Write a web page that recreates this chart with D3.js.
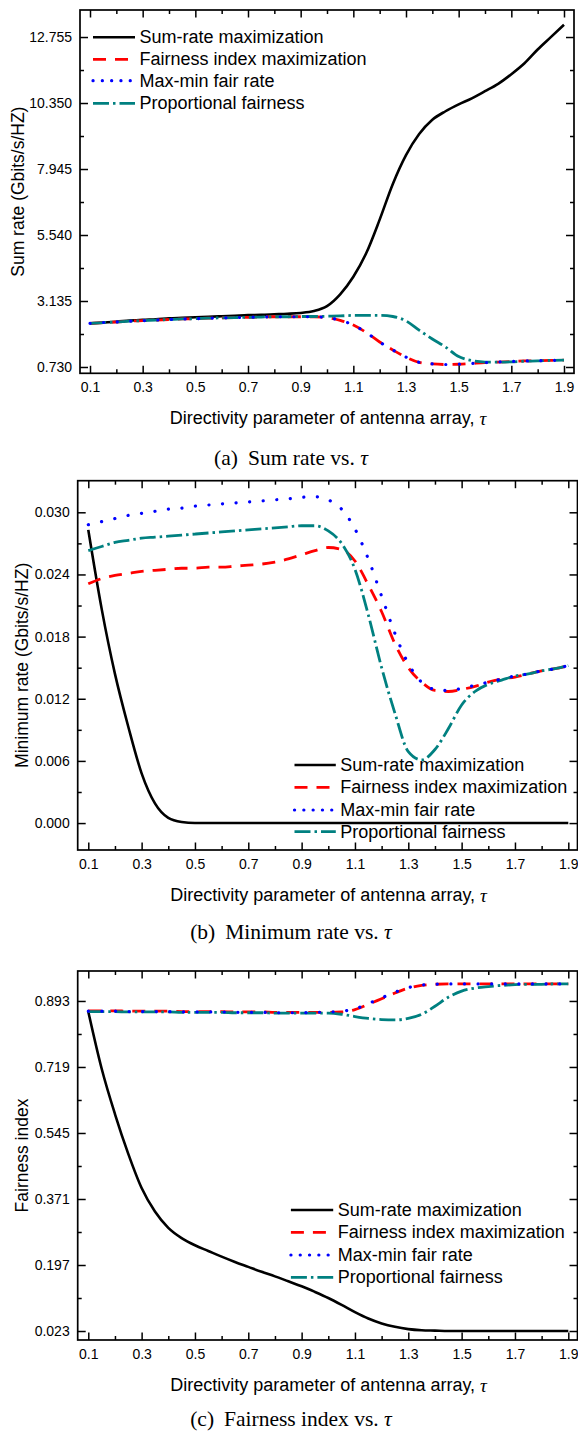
<!DOCTYPE html>
<html><head><meta charset="utf-8">
<script src="https://cdn.jsdelivr.net/npm/d3@7"></script>
<style>body{margin:0;background:#fff} svg{display:block}</style>
</head><body>
<svg id="c" width="578" height="1433"></svg>
<script>
// ---------------- DATA ----------------
const tau = [0.1,0.15,0.2,0.25,0.3,0.35,0.4,0.45,0.5,0.55,0.6,0.65,0.7,0.75,0.8,0.85,0.9,0.95,1.0,1.05,1.1,1.15,1.2,1.25,1.3,1.35,1.4,1.45,1.5,1.55,1.6,1.65,1.7,1.75,1.8,1.85,1.9];
const seriesNames = ["Sum-rate maximization","Fairness index maximization","Max-min fair rate","Proportional fairness"];
const xTickLabels = ["0.1","0.3","0.5","0.7","0.9","1.1","1.3","1.5","1.7","1.9"];
const xMinorTicks = [0.2,0.4,0.6,0.8,1.0,1.2,1.4,1.6,1.8];

// (a) Sum rate
const sumRateTickLabels = ["0.730","3.135","5.540","7.945","10.350","12.755"];
const sumRateSR = [2.32,2.35,2.38,2.42,2.45,2.47,2.50,2.52,2.54,2.56,2.58,2.60,2.62,2.63,2.65,2.67,2.70,2.77,2.95,3.38,4.02,4.90,6.10,7.40,8.45,9.22,9.74,10.05,10.30,10.52,10.78,11.05,11.40,11.80,12.30,12.75,13.20];
const sumRateFI = [2.32,2.35,2.37,2.40,2.42,2.44,2.46,2.48,2.49,2.51,2.52,2.53,2.54,2.55,2.56,2.56,2.56,2.56,2.53,2.43,2.26,1.98,1.64,1.35,1.09,0.90,0.84,0.82,0.83,0.86,0.89,0.91,0.93,0.95,0.96,0.97,0.98];
const sumRateMM = [2.32,2.35,2.37,2.40,2.42,2.44,2.46,2.48,2.49,2.51,2.52,2.53,2.54,2.55,2.56,2.56,2.56,2.56,2.53,2.43,2.26,1.98,1.64,1.35,1.09,0.90,0.84,0.82,0.83,0.86,0.89,0.91,0.93,0.95,0.96,0.97,0.98];
const sumRatePF = [2.32,2.35,2.37,2.40,2.42,2.44,2.46,2.48,2.49,2.51,2.52,2.53,2.54,2.55,2.56,2.56,2.57,2.57,2.58,2.59,2.61,2.61,2.61,2.57,2.41,2.07,1.75,1.46,1.11,0.96,0.91,0.91,0.92,0.94,0.95,0.97,0.98];

// (b) Minimum rate
const minRateTickLabels = ["0.000","0.006","0.012","0.018","0.024","0.030"];
const minRateSR = [0.0283,0.0207,0.0144,0.0093,0.0048,0.0019,0.0005,0.0001,0.0000,0.0000,0.0000,0.0000,0.0000,0.0000,0.0000,0.0000,0.0000,0.0000,0.0000,0.0000,0.0000,0.0000,0.0000,0.0000,0.0000,0.0000,0.0000,0.0000,0.0000,0.0000,0.0000,0.0000,0.0000,0.0000,0.0000,0.0000,0.0000];
const minRateFI = [0.0231,0.0236,0.0239,0.0241,0.0243,0.0244,0.0245,0.0246,0.0246,0.0247,0.0247,0.0248,0.0249,0.0250,0.0252,0.0255,0.0259,0.0263,0.0266,0.0264,0.0253,0.0230,0.0204,0.0173,0.0150,0.0136,0.0128,0.0127,0.0129,0.0132,0.0136,0.0139,0.0141,0.0144,0.0147,0.0149,0.0152];
const minRateMM = [0.0288,0.0291,0.0294,0.0297,0.0299,0.0301,0.0303,0.0304,0.0306,0.0307,0.0308,0.0309,0.0310,0.0311,0.0312,0.0313,0.03145,0.0315,0.0312,0.0303,0.0284,0.0255,0.0219,0.0183,0.0154,0.0136,0.0129,0.0128,0.0130,0.0133,0.0136,0.0139,0.0142,0.0144,0.0147,0.0149,0.0152];
const minRatePF = [0.0263,0.0267,0.0271,0.0273,0.0275,0.0276,0.0277,0.0278,0.0279,0.0280,0.0281,0.0282,0.0283,0.0284,0.0285,0.0286,0.0287,0.0287,0.0282,0.0270,0.0245,0.0201,0.0150,0.0106,0.0069,0.0061,0.0071,0.0091,0.0114,0.0127,0.0134,0.0138,0.0142,0.0144,0.0147,0.0149,0.0152];

// (c) Fairness index
const fairTickLabels = ["0.023","0.197","0.371","0.545","0.719","0.893"];
const fairSR = [0.865,0.715,0.595,0.490,0.400,0.338,0.295,0.268,0.249,0.234,0.219,0.205,0.192,0.179,0.167,0.154,0.141,0.126,0.110,0.092,0.073,0.056,0.043,0.034,0.028,0.025,0.024,0.023,0.023,0.023,0.023,0.023,0.023,0.023,0.023,0.023,0.023];
const fairFI = [0.867,0.867,0.867,0.866,0.866,0.866,0.866,0.865,0.865,0.865,0.865,0.864,0.864,0.864,0.863,0.863,0.863,0.863,0.863,0.864,0.870,0.884,0.899,0.914,0.927,0.934,0.937,0.938,0.938,0.938,0.938,0.938,0.938,0.938,0.938,0.938,0.938];
const fairMM = [0.866,0.866,0.866,0.865,0.865,0.865,0.865,0.864,0.864,0.864,0.864,0.863,0.863,0.863,0.862,0.862,0.862,0.863,0.864,0.866,0.872,0.886,0.901,0.916,0.928,0.935,0.937,0.938,0.938,0.938,0.938,0.938,0.938,0.938,0.938,0.938,0.938];
const fairPF = [0.865,0.865,0.865,0.864,0.864,0.864,0.864,0.863,0.863,0.863,0.863,0.862,0.862,0.862,0.861,0.861,0.861,0.861,0.861,0.858,0.852,0.847,0.844,0.843,0.847,0.858,0.879,0.903,0.919,0.927,0.931,0.934,0.936,0.937,0.937,0.938,0.938];

// ---------------- STYLE / LAYOUT ----------------
const styles = [
  {color:"#000000", width:2.6, dash:null, cap:"butt"},
  {color:"#ff0000", width:2.8, dash:"13,9", cap:"butt"},
  {color:"#0000ff", width:3.2, dash:"0.1,13.5", cap:"round", legendDash:"0.1,9.2"},
  {color:"#008080", width:2.8, dash:"16,4,2.5,4", cap:"butt"}
];
const FONT = "'Liberation Sans', Arial, sans-serif";
const SERIF = "'Liberation Serif', 'Times New Roman', serif";

const panels = [
  {series:[sumRateSR,sumRateFI,sumRateMM,sumRatePF], yLabels:sumRateTickLabels,
   left:80, right:574, top:10, bottom:373.3, xDomain:[0.062,1.938], yDomain:[0.5,13.74],
   yTitle:"Sum rate (Gbits/s/HZ)", yTitleX:17.5,
   legend:{x1:93, x2:135, y:[37.3,59.3,80.7,103.3]},
   caption:"(a)", captionText:"Sum rate vs. ", captionY:458},
  {series:[minRateSR,minRateFI,minRateMM,minRatePF], yLabels:minRateTickLabels,
   left:77.7, right:577.5, top:480.7, bottom:850, xDomain:[0.0603,1.9345], yDomain:[-0.0026,0.03305],
   yTitle:"Minimum rate (Gbits/s/HZ)", yTitleX:21.5,
   legend:{x1:294.5, x2:335.8, y:[765,787.3,810,831.7]},
   caption:"(b)", captionText:"Minimum rate vs. ", captionY:932},
  {series:[fairSR,fairFI,fairMM,fairPF], yLabels:fairTickLabels,
   left:77.7, right:577.5, top:971, bottom:1340, xDomain:[0.0603,1.9345], yDomain:[-0.0007,0.972],
   yTitle:"Fairness index", yTitleX:21.5,
   legend:{x1:290.9, x2:333.2, y:[1210,1232.3,1255,1277.3]},
   caption:"(c)", captionText:"Fairness index vs. ", captionY:1419}
];
const drawOrder = [0,1,3,2];

const svg = d3.select("#c");

panels.forEach(p => {
  const g = svg.append("g");
  const x = d3.scaleLinear().domain(p.xDomain).range([p.left, p.right]);
  const y = d3.scaleLinear().domain(p.yDomain).range([p.bottom, p.top]);
  const xMajor = xTickLabels.map(Number);
  const yMajor = p.yLabels.map(Number);
  const yMinor = d3.pairs(yMajor).map(([a,b]) => (a+b)/2);

  // series
  const line = d3.line().x((d,i)=>x(tau[i])).y(d=>y(d)).curve(d3.curveMonotoneX);
  const clipId = "clip"+p.caption.replace(/\W/g,"");
  svg.append("clipPath").attr("id",clipId).append("rect")
    .attr("x",p.left).attr("y",p.top).attr("width",p.right-p.left).attr("height",p.bottom-p.top);
  const lg = g.append("g").attr("clip-path",`url(#${clipId})`);
  drawOrder.forEach(k => {
    const s = styles[k];
    lg.append("path").datum(p.series[k]).attr("d",line)
      .attr("fill","none").attr("stroke",s.color).attr("stroke-width",s.width)
      .attr("stroke-dasharray",s.dash).attr("stroke-linecap",s.cap).attr("stroke-linejoin","round");
  });

  // axes (inward ticks on all four sides)
  const fmtNone = () => "";
  const bottomAx = g.append("g").attr("transform",`translate(0,${p.bottom})`)
    .call(d3.axisBottom(x).tickValues(xMajor).tickSize(-7.5).tickPadding(9).tickFormat((d,i)=>xTickLabels[i]));
  g.append("g").attr("transform",`translate(0,${p.bottom})`)
    .call(d3.axisBottom(x).tickValues(xMinorTicks).tickSize(-4).tickFormat(fmtNone));
  g.append("g").attr("transform",`translate(0,${p.top})`)
    .call(d3.axisTop(x).tickValues(xMajor).tickSize(-7.5).tickFormat(fmtNone));
  g.append("g").attr("transform",`translate(0,${p.top})`)
    .call(d3.axisTop(x).tickValues(xMinorTicks).tickSize(-4).tickFormat(fmtNone));
  g.append("g").attr("transform",`translate(${p.left},0)`)
    .call(d3.axisLeft(y).tickValues(yMajor).tickSize(-8).tickPadding(8).tickFormat((d,i)=>p.yLabels[i]));
  g.append("g").attr("transform",`translate(${p.left},0)`)
    .call(d3.axisLeft(y).tickValues(yMinor).tickSize(-4).tickFormat(fmtNone));
  g.append("g").attr("transform",`translate(${p.right},0)`)
    .call(d3.axisRight(y).tickValues(yMajor).tickSize(-8).tickFormat(fmtNone));
  g.append("g").attr("transform",`translate(${p.right},0)`)
    .call(d3.axisRight(y).tickValues(yMinor).tickSize(-4).tickFormat(fmtNone));
  g.selectAll(".domain").remove();
  g.selectAll(".tick line").attr("stroke","#000").attr("stroke-width",1.5);
  g.selectAll(".tick text").attr("font-family",FONT).attr("font-size",14).attr("fill","#000");
  bottomAx.selectAll(".tick text").attr("dy","0.71em");

  // frame
  g.append("rect").attr("x",p.left).attr("y",p.top).attr("width",p.right-p.left).attr("height",p.bottom-p.top)
    .attr("fill","none").attr("stroke","#000").attr("stroke-width",1.7);

  // axis titles
  const xt = g.append("text").attr("x",(p.left+p.right)/2+1).attr("y",p.bottom+45)
    .attr("text-anchor","middle").attr("dominant-baseline","central")
    .attr("font-family",FONT).attr("font-size",18).attr("fill","#000");
  xt.append("tspan").text("Directivity parameter of antenna array, ");
  xt.append("tspan").attr("font-family",SERIF).attr("font-style","italic").attr("font-size",19).text("τ");
  g.append("text").attr("transform",`translate(${p.yTitleX},${(p.top+p.bottom)/2}) rotate(-90)`)
    .attr("text-anchor","middle").attr("dominant-baseline","central")
    .attr("font-family",FONT).attr("font-size",17.5).attr("fill","#000").text(p.yTitle);

  // legend
  seriesNames.forEach((name,k) => {
    const s = styles[k];
    const ly = p.legend.y[k];
    g.append("line").attr("x1",p.legend.x1).attr("x2",p.legend.x2).attr("y1",ly).attr("y2",ly)
      .attr("stroke",s.color).attr("stroke-width",s.width)
      .attr("stroke-dasharray",s.legendDash || s.dash).attr("stroke-linecap",s.cap);
    g.append("text").attr("x",p.legend.x2+4.5).attr("y",ly).attr("dominant-baseline","central")
      .attr("font-family",FONT).attr("font-size",18).attr("fill","#000").text(name);
  });

  // caption
  const ct = g.append("text").attr("x",291).attr("y",p.captionY).attr("text-anchor","middle")
    .attr("dominant-baseline","central").attr("font-family",SERIF).attr("font-size",21.5).attr("fill","#000");
  ct.append("tspan").text(p.caption);
  ct.append("tspan").attr("dx",10).text(p.captionText);
  ct.append("tspan").attr("font-style","italic").text("τ");
});
</script>
</body></html>
